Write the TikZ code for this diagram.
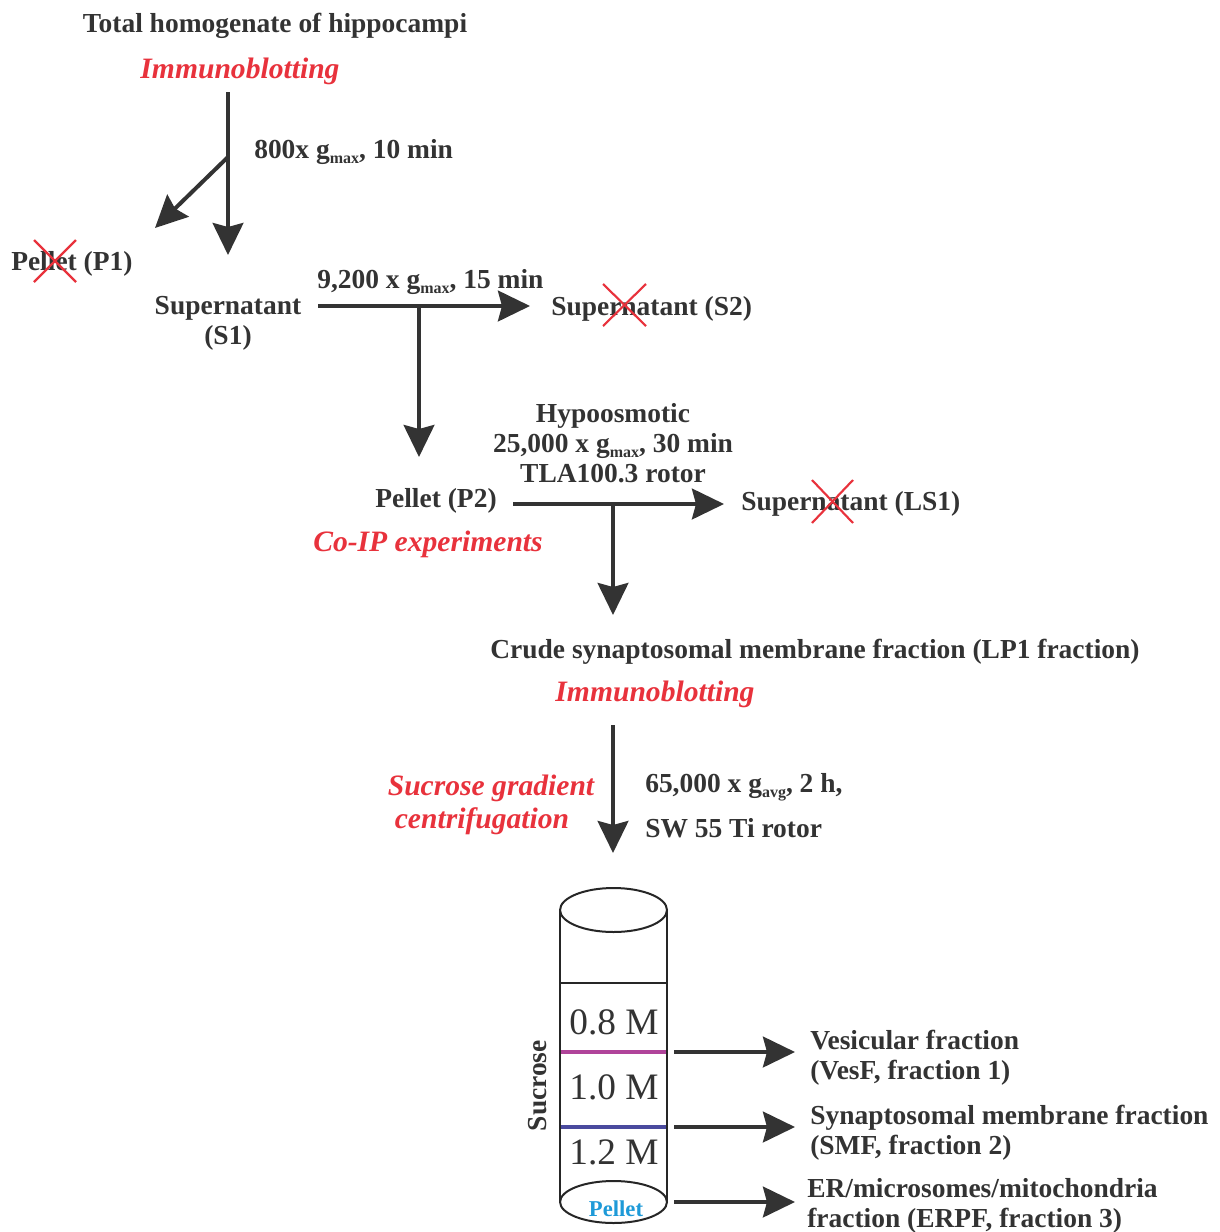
\documentclass[tikz,border=0pt]{standalone}
\usepackage{fontspec}
\setmainfont{Liberation Serif}
\usetikzlibrary{arrows.meta}
\definecolor{ink}{HTML}{333333}
\definecolor{redt}{HTML}{E8323C}
\definecolor{bluet}{HTML}{1E9AD8}
\definecolor{magl}{HTML}{B0449A}
\definecolor{blul}{HTML}{4A4A9E}
\newcommand{\gsub}[1]{g\raisebox{-0.4ex}{\fontsize{12}{12}\selectfont #1}}
\begin{document}
\begin{tikzpicture}[x=0.75pt,y=-0.75pt,
 txt/.style={font=\fontsize{20.6}{22.5}\selectfont\bfseries, text=ink, inner sep=0pt, yshift=-2pt},
 rlab/.style={font=\fontsize{22.2}{24}\selectfont\bfseries\itshape, text=redt, inner sep=0pt, yshift=-2pt},
 conc/.style={font=\fontsize{28}{30}\selectfont, text=ink, inner sep=0pt},
 flow/.style={draw=ink, line width=3pt, -{Stealth[length=24pt,width=23pt,inset=3pt]}},
 xmark/.style={draw=redt, line width=1.6pt},
 tube/.style={draw=black!85, line width=1.5pt},
]
\useasboundingbox (0,0) rectangle (1220,1232);

% texts
\node[txt] (top) at (275,23) {Total homogenate of hippocampi};
\node[rlab] (ib1) at (240,69) {Immunoblotting};
\node[txt, anchor=west] (c1) at (254,149) {800x \gsub{max}, 10 min};
\node[txt, anchor=west] (p1) at (11,261) {Pellet (P1)};
\node[txt, align=center] (s1) at (228,321) {Supernatant\\(S1)};
\node[txt, anchor=west] (c2) at (317,279) {9,200 x \gsub{max}, 15 min};
\node[txt, anchor=west] (s2) at (551,306) {Supernatant (S2)};
\node[txt, align=center] (c3) at (613,440) {Hypoosmotic\\25,000 x \gsub{max}, 30 min\\TLA100.3 rotor};
\node[txt] (p2) at (436,498) {Pellet (P2)};
\node[rlab] (coip) at (428,542) {Co-IP experiments};
\node[txt, anchor=west] (ls1) at (741,501) {Supernatant (LS1)};
\node[txt] (lp1) at (815,649) {Crude synaptosomal membrane fraction (LP1 fraction)};
\node[rlab] (ib2) at (655,692) {Immunoblotting};
\node[rlab] (sg1) at (491,786) {Sucrose gradient};
\node[rlab] (sg2) at (482,819) {centrifugation};
\node[txt, anchor=west] (c4) at (645,785) {65,000 x \gsub{avg}, 2 h,};
\node[txt, anchor=west] (c4b) at (645,826) {SW 55 Ti rotor};

% crosses
\draw[xmark] (34,240) -- (76,282) (34,282) -- (76,240);
\draw[xmark] (603,284) -- (646,326) (603,326) -- (646,284);
\draw[xmark] (812,480) -- (853,523) (812,523) -- (853,480);

% connectors
\coordinate (a1s) at (228,92);
\coordinate (a1e) at (228,255);
\coordinate (a1b) at (228,157);
\coordinate (a1d) at (155,228);
\draw[flow] (a1s) -- (a1e);
\draw[flow] (a1b) -- (a1d);

\coordinate (a2s) at (318,306);
\coordinate (a2e) at (530,306);
\coordinate (a2b) at (419,306);
\coordinate (a2d) at (419,457);
\draw[flow] (a2s) -- (a2e);
\draw[flow] (a2b) -- (a2d);

\coordinate (a3s) at (513,504);
\coordinate (a3e) at (724,504);
\coordinate (a3b) at (613,504);
\coordinate (a3d) at (613,615);
\draw[flow] (a3s) -- (a3e);
\draw[flow] (a3b) -- (a3d);

\coordinate (a4s) at (613,725);
\coordinate (a4e) at (613,853);
\draw[flow] (a4s) -- (a4e);

% tube
\draw[tube] (560,910) -- (560,1202) (667,910) -- (667,1202);
\draw[tube] (613.5,910) ellipse [x radius=40.1pt, y radius=16.5pt];
\draw[tube] (613.5,1202) ellipse [x radius=40.1pt, y radius=15.75pt];
\draw[tube] (560,983) -- (667,983);
\draw[draw=magl, line width=2.4pt] (561,1052) -- (666,1052);
\draw[draw=blul, line width=2.4pt] (561,1127) -- (666,1127);
\node[conc] (m08) at (614,1022) {0.8 M};
\node[conc] (m10) at (614,1087) {1.0 M};
\node[conc] (m12) at (614,1152) {1.2 M};
\node[font=\fontsize{17}{18}\selectfont\bfseries, text=bluet, inner sep=0pt] (pel) at (616,1209) {Pellet};
\node[txt, rotate=90, yshift=2pt] (suc) at (540,1083) {Sucrose};

\coordinate (b1s) at (674,1052);
\coordinate (b1e) at (795,1052);
\coordinate (b2s) at (674,1127);
\coordinate (b2e) at (795,1127);
\coordinate (b3s) at (674,1202);
\coordinate (b3e) at (795,1202);
\draw[flow] (b1s) -- (b1e);
\draw[flow] (b2s) -- (b2e);
\draw[flow] (b3s) -- (b3e);

\node[txt, anchor=west, align=left] (f1) at (810,1055) {Vesicular fraction\\(VesF, fraction 1)};
\node[txt, anchor=west, align=left] (f2) at (810,1130) {Synaptosomal membrane fraction\\(SMF, fraction 2)};
\node[txt, anchor=west, align=left] (f3) at (807,1203) {ER/microsomes/mitochondria\\fraction (ERPF, fraction 3)};
\end{tikzpicture}
\end{document}
